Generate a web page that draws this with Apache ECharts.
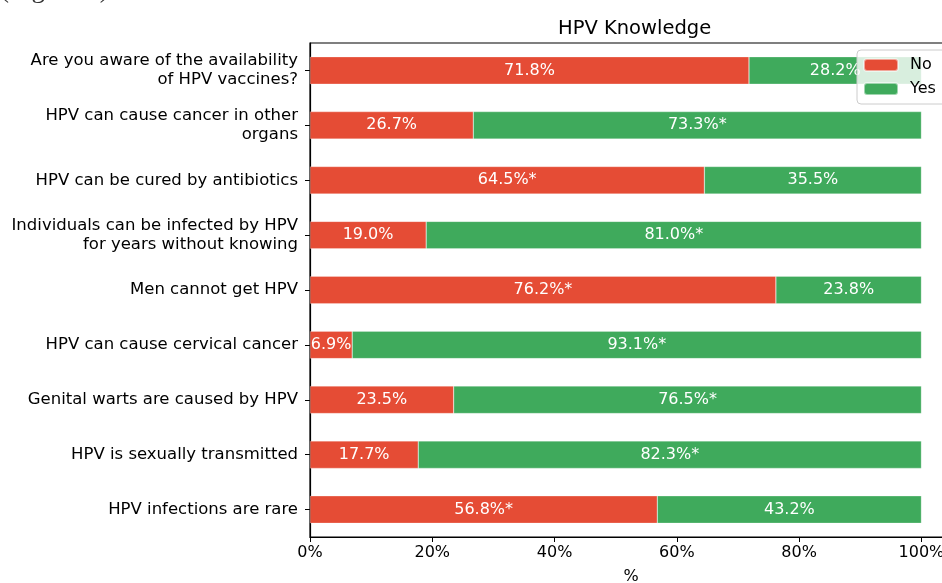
<!DOCTYPE html>
<html>
<head>
<meta charset="utf-8">
<script src="https://cdn.jsdelivr.net/npm/echarts@6/dist/echarts.min.js"></script>
<style>
  html, body { margin: 0; padding: 0; background: #fff; }
  #chart { width: 942px; height: 583px; }
</style>
</head>
<body>
<div id="chart"></div>
<script>
const questions = [
  "Are you aware of the availability\nof HPV vaccines?",
  "HPV can cause cancer in other\norgans",
  "HPV can be cured by antibiotics",
  "Individuals can be infected by HPV\nfor years without knowing",
  "Men cannot get HPV",
  "HPV can cause cervical cancer",
  "Genital warts are caused by HPV",
  "HPV is sexually transmitted",
  "HPV infections are rare",
];
const noValues = [71.8, 26.7, 64.5, 19.0, 76.2, 6.9, 23.5, 17.7, 56.8];
const yesValues = [28.2, 73.3, 35.5, 81.0, 23.8, 93.1, 76.5, 82.3, 43.2];
// significance marks shown after the percentage
const noStars = [false, false, true, false, true, false, false, false, true];
const yesStars = [false, true, false, true, false, true, true, true, false];
const xTicks = [0, 20, 40, 60, 80, 100];

const font = "DejaVu Sans";
const red = "#e54c35";
const green = "#3faa5c";

function barLabel(stars) {
  return {
    show: true,
    position: "inside",
    color: "#fff",
    fontFamily: font,
    fontSize: 16,
    formatter: (p) => p.value.toFixed(1) + "%" + (stars[p.dataIndex] ? "*" : ""),
  };
}

const chart = echarts.init(document.getElementById("chart"), null, {
  renderer: "canvas",
});
const option = {
  animation: false,
  title: {
    text: "HPV Knowledge",
    left: 553,
    top: 14,
    textStyle: { fontFamily: font, fontSize: 19.5, fontWeight: "normal", color: "#000" },
  },
  graphic: [
    {
      type: "text",
      left: 0,
      top: -24,
      style: {
        text: "(Figure 1).",
        fontFamily: "Liberation Serif",
        fontSize: 27,
        fill: "#333",
      },
    },
  ],
  legend: {
    data: ["No", "Yes"],
    orient: "vertical",
    left: 857,
    top: 50,
    itemWidth: 34,
    itemHeight: 12,
    itemGap: 8,
    padding: [7, 14, 7, 6],
    backgroundColor: "rgba(255,255,255,0.8)",
    borderColor: "#cccccc",
    borderWidth: 1,
    borderRadius: 4,
    textStyle: { fontFamily: font, fontSize: 16, color: "#000", padding: [0, 0, 0, 7] },
  },
  grid: {
    left: 310,
    top: 43,
    height: 494,
    width: 642,
    show: true,
    borderColor: "#000",
    borderWidth: 1.2,
    outerBoundsMode: "none",
    containLabel: false,
  },
  xAxis: {
    type: "value",
    min: 0,
    max: 105,
    interval: 20,
    name: "%",
    nameLocation: "middle",
    nameGap: 32,
    nameTextStyle: { fontFamily: font, fontSize: 16, color: "#000" },
    axisLine: { show: true, lineStyle: { color: "#000", width: 1.2 } },
    axisTick: { show: true, length: 5, lineStyle: { color: "#000" } },
    axisLabel: {
      showMaxLabel: false,
      margin: 8,
      fontFamily: font,
      fontSize: 16,
      color: "#000",
      formatter: (v) => (xTicks.includes(v) ? v + "%" : ""),
    },
    splitLine: { show: false },
  },
  yAxis: {
    type: "category",
    inverse: true,
    data: questions,
    axisLine: { show: true, lineStyle: { color: "#000", width: 1.2 } },
    axisTick: { show: true, alignWithLabel: true, length: 5, lineStyle: { color: "#000" } },
    axisLabel: {
      margin: 12,
      fontFamily: font,
      fontSize: 16.5,
      lineHeight: 19,
      color: "#000",
      align: "right",
    },
  },
  series: [
    {
      name: "No",
      type: "bar",
      stack: "total",
      barWidth: "50%",
      data: noValues,
      itemStyle: { color: red, borderColor: "rgba(255,255,255,0.5)", borderWidth: 0.5 },
      label: barLabel(noStars),
    },
    {
      name: "Yes",
      type: "bar",
      stack: "total",
      barWidth: "50%",
      data: yesValues,
      itemStyle: { color: green, borderColor: "rgba(255,255,255,0.5)", borderWidth: 0.5 },
      label: barLabel(yesStars),
    },
  ],
};
chart.setOption(option);
</script>
</body>
</html>
